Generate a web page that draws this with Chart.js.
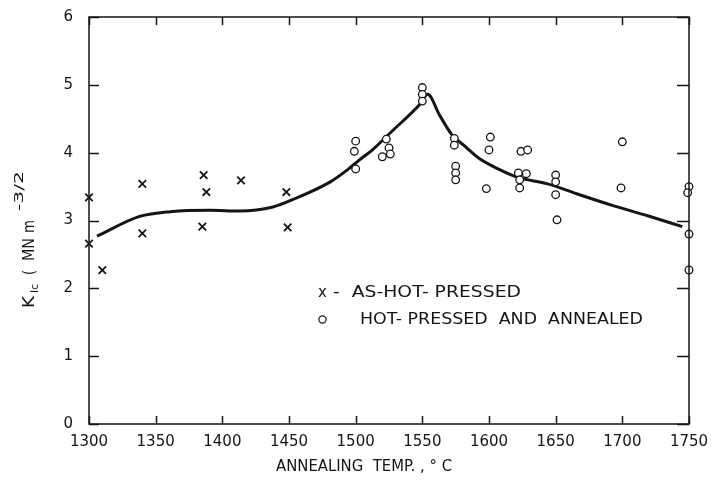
<!DOCTYPE html>
<html>
<head>
<meta charset="utf-8">
<script src="https://cdn.jsdelivr.net/npm/chart.js@4/dist/chart.umd.min.js"></script>
<style>
html,body{margin:0;padding:0;background:#fff;}
#c{display:block;}
</style>
</head>
<body>
<canvas id="c" width="712" height="484"></canvas>
<script>
// As-hot-pressed specimens (x markers)
const hotPressedTemp = [1300, 1300, 1310, 1340, 1340, 1386, 1388, 1385, 1414, 1448, 1449];
const hotPressedKic  = [3.34, 2.66, 2.27, 3.54, 2.81, 3.67, 3.42, 2.91, 3.59, 3.42, 2.90];

// Hot-pressed and annealed specimens (o markers)
const annealedTemp = [1500, 1499, 1500, 1523, 1525, 1526, 1520, 1550, 1550, 1550,
                      1574, 1574, 1575, 1575, 1575, 1601, 1600, 1598,
                      1624, 1629, 1622, 1628, 1623, 1623,
                      1650, 1650, 1650, 1651, 1700, 1699, 1750, 1749, 1750, 1750];
const annealedKic  = [4.17, 4.02, 3.76, 4.20, 4.07, 3.98, 3.94, 4.96, 4.86, 4.76,
                      4.21, 4.11, 3.80, 3.70, 3.60, 4.23, 4.04, 3.47,
                      4.02, 4.04, 3.70, 3.69, 3.60, 3.48,
                      3.67, 3.57, 3.38, 3.01, 4.16, 3.48, 3.50, 3.41, 2.80, 2.27];

// Hand-drawn trend curve
const curveTemp = [1306, 1338, 1361, 1391, 1413, 1438, 1453, 1481, 1494, 1502, 1513, 1528, 1548, 1554,
                   1563, 1572, 1581, 1593, 1608, 1621, 1644, 1668, 1693, 1719, 1745];
const curveKic  = [2.77, 3.06, 3.13, 3.15, 3.14, 3.20, 3.31, 3.57, 3.75, 3.88, 4.05, 4.33, 4.71, 4.86,
                   4.55, 4.27, 4.11, 3.91, 3.75, 3.64, 3.54, 3.38, 3.22, 3.07, 2.91];

const xTicks = [1300, 1350, 1400, 1450, 1500, 1550, 1600, 1650, 1700, 1750];
const yTicks = [0, 1, 2, 3, 4, 5, 6];

const xTitle = "ANNEALING  TEMP. , ° C";
const legendHot = "-  AS-HOT- PRESSED";
const legendAnn = "HOT- PRESSED  AND  ANNEALED";

const INK = '#151515';
const FONT = '"DejaVu Sans", "Liberation Sans", sans-serif';

const zip = (xs, ys) => xs.map((x, i) => ({x: x, y: ys[i]}));

function stretchText(ctx, text, x, y, width) {
  const w = ctx.measureText(text).width;
  ctx.save();
  ctx.translate(x, y);
  ctx.scale(width / w, 1);
  ctx.fillText(text, 0, 0);
  ctx.restore();
}

const decor = {
  id: 'decor',
  beforeDraw(chart) {
    const ctx = chart.ctx;
    ctx.save();
    ctx.fillStyle = '#fff';
    ctx.fillRect(0, 0, chart.width, chart.height);
    ctx.restore();
  },
  afterDraw(chart) {
    const ctx = chart.ctx;
    const a = chart.chartArea;
    const xs = chart.scales.x, ys = chart.scales.y;
    ctx.save();
    ctx.strokeStyle = INK;
    ctx.lineWidth = 1.5;
    // frame
    ctx.beginPath();
    ctx.rect(a.left, a.top, a.right - a.left, a.bottom - a.top);
    ctx.stroke();
    // inward ticks
    ctx.beginPath();
    xTicks.forEach(v => {
      const px = Math.round(xs.getPixelForValue(v)) + 0.5;
      ctx.moveTo(px, a.bottom); ctx.lineTo(px, a.bottom - 8);
      ctx.moveTo(px, a.top); ctx.lineTo(px, a.top + 8);
    });
    yTicks.forEach(v => {
      const py = Math.round(ys.getPixelForValue(v)) + 0.5;
      ctx.moveTo(a.left, py); ctx.lineTo(a.left + 10, py);
      ctx.moveTo(a.right, py); ctx.lineTo(a.right - 12, py);
    });
    ctx.stroke();

    ctx.fillStyle = INK;
    ctx.textBaseline = 'alphabetic';
    ctx.textAlign = 'left';
    // x title
    ctx.font = '15px ' + FONT;
    stretchText(ctx, xTitle, 276, 471, 176);

    // legend
    ctx.font = '15px ' + FONT;
    ctx.fillText('x', 318, 297);
    stretchText(ctx, legendHot, 333, 297, 188);
    ctx.beginPath();
    ctx.lineWidth = 1.2;
    ctx.arc(322.5, 319.5, 3.6, 0, Math.PI * 2);
    ctx.stroke();
    stretchText(ctx, legendAnn, 360, 324, 283);

    // y title, rotated with sub/superscripts
    ctx.save();
    ctx.translate(34, 308);
    ctx.rotate(-Math.PI / 2);
    ctx.font = '15px ' + FONT;
    stretchText(ctx, 'K', 0, 0, 12);
    ctx.font = '11px ' + FONT;
    stretchText(ctx, 'Ic', 15, 4, 9);
    ctx.font = '15px ' + FONT;
    stretchText(ctx, '(', 33, 0, 5);
    stretchText(ctx, 'MN', 47, 0, 23);
    stretchText(ctx, 'm', 75, 0, 13);
    ctx.font = '13px ' + FONT;
    stretchText(ctx, '-3/2', 97, -11, 40);
    ctx.restore();

    ctx.restore();
  }
};

new Chart(document.getElementById('c'), {
  type: 'scatter',
  data: {
    datasets: [
      {
        type: 'line',
        label: 'trend',
        data: zip(curveTemp, curveKic),
        borderColor: INK,
        borderWidth: 3,
        pointRadius: 0,
        fill: false,
        cubicInterpolationMode: 'monotone',
        order: 3
      },
      {
        label: 'As-hot-pressed',
        data: zip(hotPressedTemp, hotPressedKic),
        pointStyle: 'crossRot',
        pointRadius: 5.3,
        borderColor: INK,
        borderWidth: 1.8,
        order: 1
      },
      {
        label: 'Hot-pressed and annealed',
        data: zip(annealedTemp, annealedKic),
        pointStyle: 'circle',
        pointRadius: 3.8,
        borderColor: INK,
        backgroundColor: '#fff',
        borderWidth: 1.3,
        order: 2
      }
    ]
  },
  options: {
    responsive: false,
    animation: false,
    clip: false,
    layout: {padding: {left: 0, right: 23, top: 14, bottom: 0}},
    plugins: {legend: {display: false}, tooltip: {enabled: false}},
    scales: {
      x: {
        type: 'linear', min: 1300, max: 1750,
        afterFit(s) { s.height = 60; },
        afterBuildTicks(s) { s.ticks = xTicks.map(v => ({value: v})); },
        grid: {display: false},
        border: {display: false},
        ticks: {
          color: INK, padding: 1,
          font: {family: FONT, size: 15},
          callback: v => String(v)
        }
      },
      y: {
        min: 0, max: 6,
        afterFit(s) { s.width = 89; },
        afterBuildTicks(s) { s.ticks = yTicks.map(v => ({value: v})); },
        grid: {display: false},
        border: {display: false},
        ticks: {
          color: INK, padding: 8,
          font: {family: FONT, size: 15},
          callback: v => String(v)
        }
      }
    }
  },
  plugins: [decor]
});
</script>
</body>
</html>
